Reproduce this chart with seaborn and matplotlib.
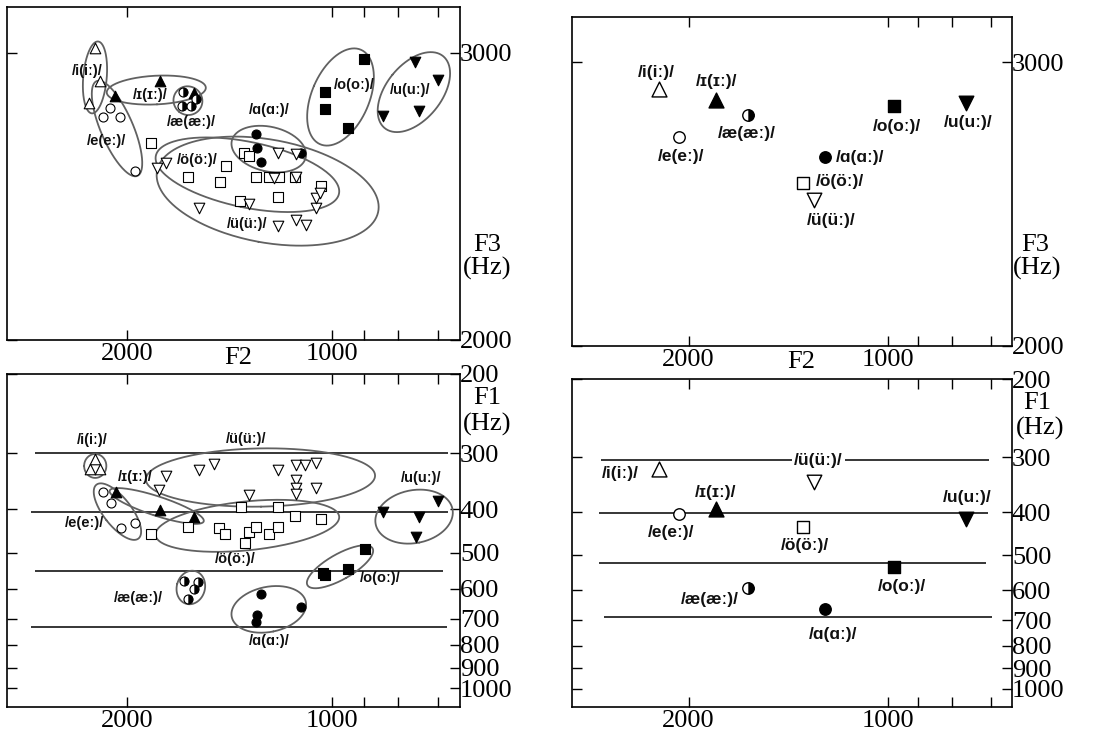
import numpy as np
import pandas as pd
import matplotlib
matplotlib.use("Agg")
import matplotlib.pyplot as plt
from matplotlib.path import Path
from matplotlib.ticker import FixedLocator, NullFormatter, NullLocator, FuncFormatter
import seaborn as sns

# ---------------- data ----------------
VOWELS = ["i", "ɪ", "e", "æ", "ɑ", "ö", "ü", "o", "u"]
LABELS = ["/i(iː)/", "/ɪ(ɪː)/", "/e(eː)/", "/æ(æː)/", "/ɑ(ɑː)/",
          "/ö(öː)/", "/ü(üː)/", "/o(oː)/", "/u(uː)/"]

# individual tokens, F2-F3 plane (top left)
top_vowel = (["i"] * 3 + ["ɪ"] * 3 + ["e"] * 4 + ["æ"] * 4 + ["ɑ"] * 4
             + ["ö"] * 13 + ["ü"] * 14 + ["o"] * 4 + ["u"] * 4)
top_F2 = [2227, 2190, 2271,
          2081, 1790, 1598,
          2117, 2172, 2046, 1949,
          1654, 1663, 1613, 1586,
          1296, 1289, 1271, 1112,
          1848, 1631, 1460, 1432, 1365, 1346, 1326, 1293, 1239, 1197, 1201, 1135, 1039,
          1806, 1756, 1571, 1323, 1201, 1219, 1131, 1131, 1201, 1129, 1094, 1057, 1057, 1043,
          898, 1025, 1025, 950,
          757, 699, 843, 746]
top_F3 = [3017, 2901, 2826,
          2851, 2901, 2860,
          2808, 2776, 2776, 2587,
          2863, 2816, 2816, 2840,
          2719, 2669, 2619, 2653,
          2686, 2567, 2549, 2605, 2483, 2653, 2640, 2567, 2567, 2567, 2498, 2567, 2535,
          2599, 2616, 2459, 2474, 2651, 2564, 2649, 2567, 2398, 2419, 2400, 2459, 2494, 2512,
          2980, 2863, 2805, 2738,
          2969, 2907, 2781, 2797]

# individual tokens, F2-F1 plane (bottom left)
bot_vowel = (["i"] * 3 + ["ɪ"] * 3 + ["e"] * 4 + ["æ"] * 4 + ["ɑ"] * 4
             + ["ö"] * 13 + ["ü"] * 13 + ["o"] * 4 + ["u"] * 4)
bot_F2 = [2227, 2265, 2190,
          2076, 1790, 1595,
          2172, 2112, 2039, 1949,
          1650, 1575, 1596, 1631,
          1271, 1289, 1296, 1112,
          1848, 1631, 1465, 1435, 1361, 1342, 1326, 1293, 1239, 1201, 1201, 1135, 1039,
          1756, 1796, 1571, 1490, 1323, 1201, 1131, 1097, 1057, 1131, 1129, 1131, 1057,
          1033, 1025, 950, 897,
          843, 746, 699, 755]
bot_F1 = [309, 326, 326,
          365, 401, 415,
          365, 388, 441, 429,
          576, 580, 600, 632,
          617, 687, 711, 658,
          454, 438, 441, 454, 396, 474, 448, 437, 454, 438, 396, 414, 420,
          338, 363, 327, 317, 371, 327, 318, 318, 316, 344, 358, 370, 358,
          555, 559, 544, 491,
          405, 415, 384, 460]

# vowel means (right panels), order = VOWELS
mean_F2 = [2216, 1820, 2068, 1625, 1245, 1346, 1292, 978, 763]
mean_F3 = [2905, 2869, 2738, 2814, 2665, 2575, 2516, 2846, 2858]
mean_F1 = [319, 393, 403, 594, 661, 432, 341, 532, 414]

# reference lines in the F1 panels
ref_F1_left = [300, 406, 548, 731]
ref_from_left = [2725, 2762, 2725, 2762]
ref_to_left = [678, 678, 688, 680]
ref_F1_right = [305, 402, 520, 688]
ref_from_right = [2717, 2733, 2733, 2686]
ref_to_right = [703, 706, 712, 698]

# label anchor positions (order = VOWELS)
lab_TL_F2 = [2291, 1848, 2141, 1607, 1239, 1577, 1335, 929, 768]
lab_TL_F3 = [2936, 2855, 2692, 2758, 2802, 2628, 2405, 2890, 2870]
lab_BL_F2 = [2253, 1948, 2309, 1922, 1239, 1387, 1338, 852, 742]
lab_BL_F1 = [280, 339, 429, 630, 785, 516, 279, 569, 341]
lab_TR_F2 = [2234, 1818, 2054, 1633, 1101, 1181, 1219, 971, 757]
lab_TR_F3 = [2964, 2932, 2667, 2749, 2665, 2579, 2444, 2775, 2787]
lab_BR_F2 = [2534, 1824, 2127, 1861, 1212, 1335, 1274, 952, 759]
lab_BR_F1 = [327, 360, 443, 628, 753, 475, 305, 588, 371]

top_df = pd.DataFrame({"vowel": top_vowel, "F2": top_F2, "F3": top_F3})
bot_df = pd.DataFrame({"vowel": bot_vowel, "F2": bot_F2, "F1": bot_F1})
mean_df = pd.DataFrame({"vowel": VOWELS, "F2": mean_F2, "F3": mean_F3, "F1": mean_F1})

# ---------------- style ----------------
sns.set_theme(style="white", rc={"axes.edgecolor": "black", "axes.linewidth": 1.2})
plt.rcParams["font.family"] = ["Liberation Serif", "DejaVu Serif"]
LABEL_FONT = ["Liberation Sans", "DejaVu Sans"]

MARK = {"i": ("^", "white"), "ɪ": ("^", "black"), "e": ("o", "white"),
        "æ": ("half", "white"), "ɑ": ("o", "black"), "ö": ("s", "white"),
        "ü": ("v", "white"), "o": ("s", "black"), "u": ("v", "black")}
SIZES_SMALL = {"^": 58, "v": 58, "o": 42, "s": 42, "half": 42}
SIZES_BIG = {"^": 115, "v": 110, "o": 68, "s": 80, "half": 68}
HALF = Path.unit_circle_righthalf()

fig = plt.figure(figsize=(10.96, 7.31), dpi=100)
W, H = 1096, 731


def add_ax(l, t, r, b):
    return fig.add_axes([l / W, 1 - b / H, (r - l) / W, (b - t) / H])


ax_tl = add_ax(7, 7, 460, 340)
ax_bl = add_ax(7, 374, 460, 707)
ax_tr = add_ax(572, 17, 1012, 346)
ax_br = add_ax(572, 379, 1012, 707)

int_fmt = FuncFormatter(lambda v, p: f"{int(round(v))}")


def setup(ax, kind):
    ax.set_xscale("log")
    ax.set_xlim(3000, 650)
    ax.xaxis.set_major_locator(FixedLocator([2000, 1000]))
    ax.xaxis.set_major_formatter(int_fmt)
    ax.xaxis.set_minor_locator(FixedLocator([900, 800, 700]))
    ax.xaxis.set_minor_formatter(NullFormatter())
    if kind == "F3":
        ax.set_ylim(2000, 3160)
        ax.yaxis.set_major_locator(FixedLocator([2000, 3000]))
        ax.yaxis.set_minor_locator(NullLocator())
    else:
        ax.set_yscale("log")
        ax.set_ylim(1100, 200)
        ax.yaxis.set_major_locator(FixedLocator([200, 300, 400, 500, 600, 700, 800, 900, 1000]))
        ax.yaxis.set_minor_locator(NullLocator())
    ax.yaxis.set_major_formatter(int_fmt)
    ax.yaxis.set_minor_formatter(NullFormatter())
    ax.tick_params(axis="both", which="both", direction="in", length=7, width=1,
                   color="black", top=True, bottom=True, left=True, right=True,
                   labelleft=False, labelright=True, labelbottom=True, labeltop=False,
                   labelsize=19, pad=2, labelcolor="black")
    ax.tick_params(axis="y", pad=0)
    for s in ax.spines.values():
        s.set_color("black")
        s.set_linewidth(1.2)
    ax.set_xlabel("")
    ax.set_ylabel("")
    ax.set_facecolor("white")


def draw_points(ax, df, ycol, sizes, lw):
    for v in VOWELS:
        sub = df[df["vowel"] == v]
        mk, fc = MARK[v]
        if mk == "half":
            sns.scatterplot(data=sub, x="F2", y=ycol, marker="o", color="white",
                            edgecolor="black", linewidth=lw, s=sizes[mk], ax=ax,
                            legend=False, zorder=4)
            sns.scatterplot(data=sub, x="F2", y=ycol, marker=HALF, color="black",
                            edgecolor="black", linewidth=0.3, s=sizes[mk], ax=ax,
                            legend=False, zorder=5)
        else:
            sns.scatterplot(data=sub, x="F2", y=ycol, marker=mk, color=fc,
                            edgecolor="black", linewidth=lw, s=sizes[mk], ax=ax,
                            legend=False, zorder=4)
    ax.set_xlabel("")
    ax.set_ylabel("")


def enclose(ax, xs, ys, pad=5.0, reg=3.0, cap=2.0):
    pts = ax.transData.transform(np.column_stack([xs, ys]))
    c = pts.mean(axis=0)
    d = pts - c
    cov = np.cov(d.T, bias=True) + np.eye(2) * reg ** 2
    vals, vecs = np.linalg.eigh(cov)
    inv = np.linalg.inv(cov)
    m = np.sqrt(np.max(np.einsum("ij,jk,ik->i", d, inv, d)))
    m = min(max(m, 1.0), cap)
    semi = m * np.sqrt(vals) + pad
    t = np.linspace(0, 2 * np.pi, 240)
    circ = np.column_stack([np.cos(t) * semi[0], np.sin(t) * semi[1]])
    verts = c + circ @ vecs.T
    dat = ax.transData.inverted().transform(verts)
    ax.plot(dat[:, 0], dat[:, 1], color="0.38", lw=1.3, zorder=2)


def put_labels(ax, xs, ys, size, box=False):
    for lab, x, y in zip(LABELS, xs, ys):
        kw = {}
        if box:
            kw["bbox"] = dict(boxstyle="square,pad=0.1", fc="white", ec="none")
        ax.text(x, y, lab, ha="center", va="center", fontsize=size,
                fontweight="bold", family=LABEL_FONT, color="#111111", zorder=3, **kw)


# top-left: tokens F2-F3
setup(ax_tl, "F3")
draw_points(ax_tl, top_df, "F3", SIZES_SMALL, 0.8)
for v in VOWELS:
    sub = top_df[top_df["vowel"] == v]
    enclose(ax_tl, sub["F2"].values, sub["F3"].values)
put_labels(ax_tl, lab_TL_F2, lab_TL_F3, 10.5)

# bottom-left: tokens F2-F1
setup(ax_bl, "F1")
ax_bl.hlines(ref_F1_left, ref_from_left, ref_to_left, color="black", lw=1.1, zorder=1)
draw_points(ax_bl, bot_df, "F1", SIZES_SMALL, 0.8)
for v in VOWELS:
    sub = bot_df[bot_df["vowel"] == v]
    enclose(ax_bl, sub["F2"].values, sub["F1"].values)
put_labels(ax_bl, lab_BL_F2, lab_BL_F1, 10.5)

# top-right: means F2-F3
setup(ax_tr, "F3")
draw_points(ax_tr, mean_df, "F3", SIZES_BIG, 1.0)
put_labels(ax_tr, lab_TR_F2, lab_TR_F3, 12.5)

# bottom-right: means F2-F1
setup(ax_br, "F1")
ax_br.hlines(ref_F1_right, ref_from_right, ref_to_right, color="black", lw=1.1, zorder=1)
draw_points(ax_br, mean_df, "F1", SIZES_BIG, 1.0)
put_labels(ax_br, lab_BR_F2, lab_BR_F1, 12.5, box=True)

# axis titles
ser = dict(fontsize=19, color="black", ha="center", va="center")
fig.text(238 / W, 1 - 358 / H, "F2", **ser)
fig.text(801 / W, 1 - 362 / H, "F2", **ser)
fig.text(487 / W, 1 - 245 / H, "F3", **ser)
fig.text(487 / W, 1 - 268 / H, "(Hz)", **ser)
fig.text(1035 / W, 1 - 245 / H, "F3", **ser)
fig.text(1037 / W, 1 - 268 / H, "(Hz)", **ser)
fig.text(487 / W, 1 - 398 / H, "F1", **ser)
fig.text(487 / W, 1 - 424 / H, "(Hz)", **ser)
fig.text(1037 / W, 1 - 403 / H, "F1", **ser)
fig.text(1040 / W, 1 - 428 / H, "(Hz)", **ser)

fig.savefig("out.png", dpi=100, facecolor="white")
